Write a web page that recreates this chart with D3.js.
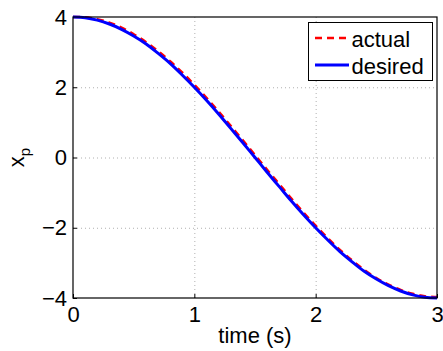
<!DOCTYPE html>
<html>
<head>
<meta charset="utf-8">
<script src="https://cdn.jsdelivr.net/npm/d3@7"></script>
<style>
  body { margin: 0; background: #fff; }
  svg { display: block; }
  text { font-family: "Liberation Sans", Arial, sans-serif; }
</style>
</head>
<body>
<div id="chart"></div>
<script>
const width = 443;
const height = 351;
const margin = {top: 17, right: 6, bottom: 53, left: 73};

// readings, every 0.1 s
const time = [0, 0.1, 0.2, 0.3, 0.4, 0.5, 0.6, 0.7, 0.8, 0.9, 1.0,
  1.1, 1.2, 1.3, 1.4, 1.5, 1.6, 1.7, 1.8, 1.9, 2.0,
  2.1, 2.2, 2.3, 2.4, 2.5, 2.6, 2.7, 2.8, 2.9, 3.0];
const desired = [4.00, 3.98, 3.91, 3.80, 3.65, 3.46, 3.24, 2.97, 2.68, 2.35, 2.00,
  1.63, 1.24, 0.83, 0.42, 0.00, -0.42, -0.83, -1.24, -1.63, -2.00,
  -2.35, -2.68, -2.97, -3.24, -3.46, -3.65, -3.80, -3.91, -3.98, -4.00];
const actual = [4.00, 3.99, 3.94, 3.84, 3.70, 3.51, 3.29, 3.03, 2.74, 2.42, 2.07,
  1.70, 1.31, 0.90, 0.49, 0.07, -0.35, -0.76, -1.17, -1.57, -1.94,
  -2.30, -2.63, -2.93, -3.20, -3.43, -3.62, -3.77, -3.88, -3.95, -3.97];
const xTicks = [0, 1, 2, 3];
const yTicks = [-4, -2, 0, 2, 4];

const svg = d3.select('#chart').append('svg')
  .attr('width', width).attr('height', height);

const x = d3.scaleLinear().domain([0, 3])
  .range([margin.left, width - margin.right]);
const y = d3.scaleLinear().domain([-4, 4])
  .range([height - margin.bottom, margin.top]);

// dotted grid
const grid = svg.append('g')
  .attr('stroke', '#b0b0b0').attr('stroke-width', 1)
  .attr('stroke-dasharray', '1,3');
grid.selectAll('.gx').data(xTicks.slice(1, -1)).enter().append('line')
  .attr('x1', d => x(d) + 0.5).attr('x2', d => x(d) + 0.5)
  .attr('y1', y(4)).attr('y2', y(-4));
grid.selectAll('.gy').data(yTicks.slice(1, -1)).enter().append('line')
  .attr('y1', d => y(d) + 0.5).attr('y2', d => y(d) + 0.5)
  .attr('x1', x(0)).attr('x2', x(3));

// axes (matlab style: ticks inside, box around)
const xAxis = g => g
  .attr('transform', `translate(0, ${y(-4)})`)
  .call(d3.axisBottom(x).tickValues(xTicks).tickFormat(d3.format('d'))
    .tickSizeInner(-4).tickSizeOuter(0).tickPadding(8))
  .call(g => g.select('.domain').remove())
  .call(g => g.selectAll('text').attr('font-size', 22).attr('fill', '#000')
    .attr('font-family', '"Liberation Sans", Arial, sans-serif'));
const yAxis = g => g
  .attr('transform', `translate(${x(0)}, 0)`)
  .call(d3.axisLeft(y).tickValues(yTicks).tickFormat(d => d < 0 ? '\u2212' + Math.abs(d) : d)
    .tickSizeInner(-4).tickSizeOuter(0).tickPadding(6))
  .call(g => g.select('.domain').remove())
  .call(g => g.selectAll('text').attr('font-size', 22).attr('fill', '#000')
    .attr('font-family', '"Liberation Sans", Arial, sans-serif'));
svg.append('g').call(xAxis);
svg.append('g').call(yAxis);

const pts = (vals) => time.map((t, i) => [t, vals[i]]);
const line = d3.line().curve(d3.curveCatmullRom)
  .x(d => x(d[0])).y(d => y(d[1]));

svg.append('path').datum(pts(actual))
  .attr('fill', 'none').attr('stroke', '#ff0000').attr('stroke-width', 2.5)
  .attr('stroke-dasharray', '7,5').attr('d', line);
svg.append('path').datum(pts(desired))
  .attr('fill', 'none').attr('stroke', '#0000ff').attr('stroke-width', 3)
  .attr('d', line);

// box
svg.append('rect')
  .attr('x', x(0)).attr('y', y(4))
  .attr('width', x(3) - x(0)).attr('height', y(-4) - y(4))
  .attr('fill', 'none').attr('stroke', '#000').attr('stroke-width', 1.2);

// labels
svg.append('text').attr('x', (x(0) + x(3)) / 2).attr('y', 343)
  .attr('text-anchor', 'middle').attr('font-size', 22).text('time (s)');
const yl = svg.append('text')
  .attr('transform', `translate(24, ${(y(4) + y(-4)) / 2}) rotate(-90)`)
  .attr('text-anchor', 'middle').attr('font-size', 22);
yl.append('tspan').text('x');
yl.append('tspan').attr('font-size', 15).attr('dy', 6).text('p');

// legend
const legend = svg.append('g').attr('transform', 'translate(308.5, 22.5)');
legend.append('rect').attr('width', 124).attr('height', 58)
  .attr('fill', '#fff').attr('stroke', '#000').attr('stroke-width', 1);
const items = [
  {name: 'actual', color: '#ff0000', dash: '7,5', w: 2.5},
  {name: 'desired', color: '#0000ff', dash: null, w: 3}
];
const li = legend.selectAll('.item').data(items).enter().append('g')
  .attr('transform', (d, i) => `translate(0, ${15.5 + i * 27})`);
li.append('line').attr('x1', 6.5).attr('x2', 40.5)
  .attr('stroke', d => d.color).attr('stroke-width', d => d.w)
  .attr('stroke-dasharray', d => d.dash);
li.append('text').attr('x', 43).attr('y', 8.5).attr('font-size', 22)
  .text(d => d.name);
</script>
</body>
</html>
